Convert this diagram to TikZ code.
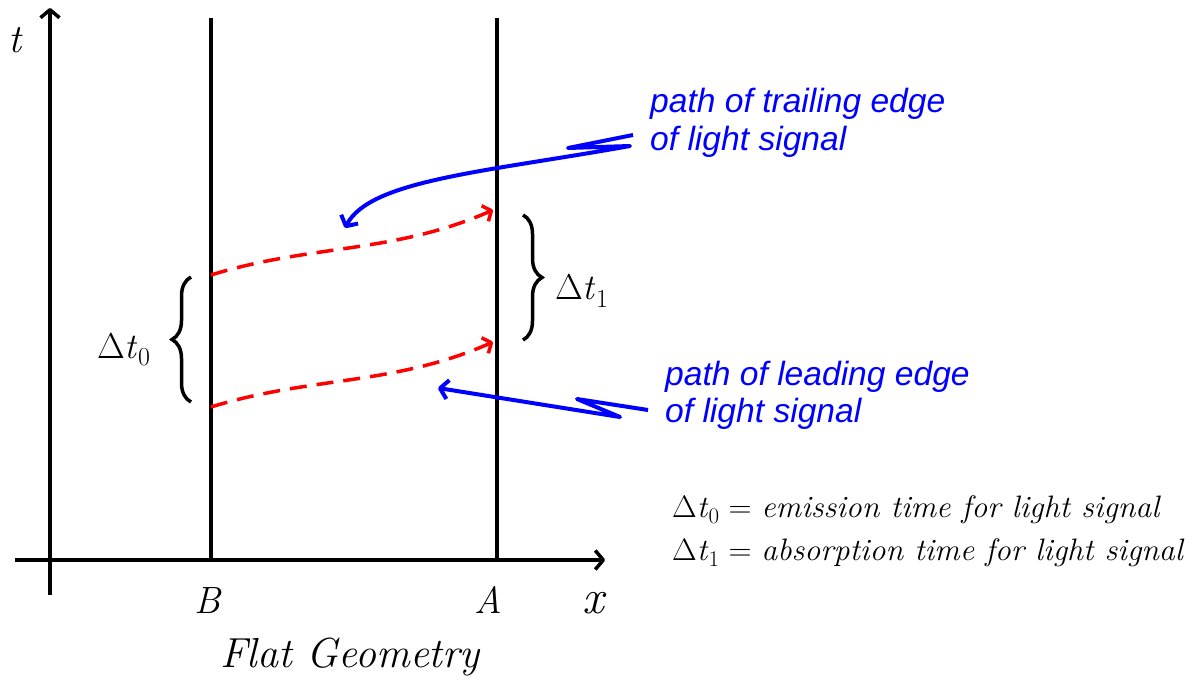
\documentclass[tikz,border=0pt]{standalone}
\usepackage{fontspec}
\newfontfamily\labelfont{Liberation Sans}
\usetikzlibrary{arrows.meta,decorations.pathreplacing}
\newcommand{\dtsym}[1]{\textup{Δ}\textit{t}\raisebox{-0.22em}{\scalebox{0.72}{\textup{#1}}}}
\begin{document}
\begin{tikzpicture}[x=1pt,y=-1pt,
  axis/.style={line width=3.5pt, line cap=butt, -{Straight Barb[length=8pt,width=19pt,line join=round]}},
  world/.style={line width=3.5pt},
  ray/.style={red, line width=3.5pt, dash pattern=on 17pt off 10pt, -{Straight Barb[length=7pt,width=17pt,line join=round]}},
  note/.style={blue, line width=4pt, line join=round, -{Straight Barb[length=8pt,width=19pt,line join=round]}},
  bracestyle/.style={line width=3.5pt, decorate, decoration={brace, amplitude=19pt}},
  bluelbl/.style={blue, inner sep=0pt, anchor=base west, font=\labelfont\itshape\fontsize{33.6}{38}\selectfont},
  axlbl/.style={inner sep=0pt, anchor=base, font=\itshape\fontsize{38}{44}\selectfont},
  dlbl/.style={inner sep=0pt, anchor=base west, font=\fontsize{36}{40}\selectfont},
  legend/.style={inner sep=0pt, anchor=base west, font=\fontsize{31}{36}\selectfont}]
\useasboundingbox (0,0) rectangle (1196,684);
% axes
\coordinate (tbot) at (50,595);
\coordinate (ttop) at (50,8);
\coordinate (xl) at (15,560);
\coordinate (xr) at (605,560);
\draw[axis] (tbot) -- (ttop);
\draw[axis] (xl) -- (xr);
% world lines
\coordinate (Btop) at (211,18);
\coordinate (Bbot) at (211,560);
\coordinate (Atop) at (497,18);
\coordinate (Abot) at (497,560);
\draw[world] (Btop) -- (Bbot);
\draw[world] (Atop) -- (Abot);
% labels
\node[axlbl, font=\itshape\fontsize{40}{46}\selectfont] (tl) at (15,53) {t};
\node[axlbl] (Bl) at (208,613) {B};
\node[axlbl] (Al) at (488,613) {A};
\node[axlbl, font=\itshape\fontsize{48}{52}\selectfont] (xlab) at (593,613) {x};
\node[inner sep=0pt, anchor=base, font=\itshape\fontsize{42}{48}\selectfont] (title) at (350,667) {Flat Geometry};
% light rays
\coordinate (e1) at (211,275);
\coordinate (a1) at (493,210);
\coordinate (e0) at (211,407);
\coordinate (a0) at (493,342);
\draw[ray] (e1) .. controls (311,244) and (393,254) .. (a1);
\draw[ray] (e0) .. controls (311,376) and (393,386) .. (a0);
% braces
\coordinate (lb1) at (191,402);
\coordinate (lb2) at (191,277);
\coordinate (rb1) at (523,215);
\coordinate (rb2) at (523,340);
\draw[bracestyle] (lb1) -- (lb2);
\draw[bracestyle] (rb1) -- (rb2);
\node[dlbl] (dt0) at (97,358) {\dtsym{0}};
\node[dlbl] (dt1) at (555,300) {\dtsym{1}};
% blue annotations
\node[bluelbl] (tr1) at (650,113) {path of trailing edge};
\node[bluelbl] (tr2) at (650,151) {of light signal};
\node[bluelbl] (ld1) at (665,385) {path of leading edge};
\node[bluelbl] (ld2) at (665,422) {of light signal};
\coordinate (z1a) at (633,135);
\coordinate (z1b) at (568,148);
\coordinate (z1c) at (630,146);
\coordinate (z1end) at (345,228);
\draw[note] (z1a) -- (z1b) -- (z1c) .. controls (485,172) and (370,180) .. (z1end);
\coordinate (z2a) at (648,410);
\coordinate (z2b) at (577,399);
\coordinate (z2c) at (620,417);
\coordinate (z2end) at (438,388);
\draw[note] (z2a) -- (z2b) -- (z2c) -- (z2end);
% legend
\node[legend] (leg0) at (672,517) {\scalebox{1.03}[1]{\dtsym{0} = \itshape emission time for light signal}};
\node[legend] (leg1) at (672,560) {\scalebox{1.03}[1]{\dtsym{1} = \itshape absorption time for light signal}};
\end{tikzpicture}
\end{document}
